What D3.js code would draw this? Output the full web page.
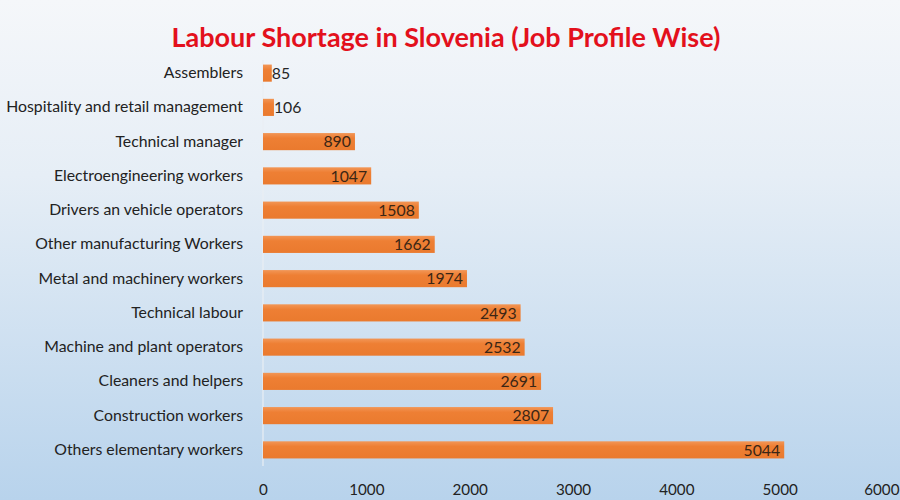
<!DOCTYPE html>
<html>
<head>
<meta charset="utf-8">
<script src="https://cdn.jsdelivr.net/npm/d3@7"></script>
<style>
  html, body { margin: 0; padding: 0; }
  body { width: 900px; height: 500px; overflow: hidden; }
  svg { display: block; font-family: Lato, "Open Sans", sans-serif; }
</style>
</head>
<body>
<svg id="chart" width="900" height="500"></svg>
<script>
const categories = [
  "Assemblers",
  "Hospitality and retail management",
  "Technical manager",
  "Electroengineering workers",
  "Drivers an vehicle operators",
  "Other manufacturing Workers",
  "Metal and machinery workers",
  "Technical labour",
  "Machine and plant operators",
  "Cleaners and helpers",
  "Construction workers",
  "Others elementary workers"
];
const values = [85, 106, 890, 1047, 1508, 1662, 1974, 2493, 2532, 2691, 2807, 5044];
const xTicks = [0, 1000, 2000, 3000, 4000, 5000, 6000];
const title = "Labour Shortage in Slovenia (Job Profile Wise)";

const svg = d3.select("#chart");
const W = 900, H = 500;
const FS = 15.8;

const defs = svg.append("defs");
const bg = defs.append("linearGradient").attr("id", "bg")
  .attr("x1", 0).attr("y1", 0).attr("x2", 0).attr("y2", 1);
bg.append("stop").attr("offset", "0%").attr("stop-color", "#f5f7fa");
bg.append("stop").attr("offset", "35%").attr("stop-color", "#e6eef6");
bg.append("stop").attr("offset", "100%").attr("stop-color", "#b8d3ec");

const barG = defs.append("linearGradient").attr("id", "barG")
  .attr("x1", 0).attr("y1", 0).attr("x2", 0).attr("y2", 1);
barG.append("stop").attr("offset", "0%").attr("stop-color", "#f29656");
barG.append("stop").attr("offset", "30%").attr("stop-color", "#ee7f34");
barG.append("stop").attr("offset", "100%").attr("stop-color", "#ea7a2e");

svg.append("rect").attr("width", W).attr("height", H).attr("fill", "url(#bg)");

const x = d3.scaleLinear().domain([0, 6000]).range([263, 883]);
const y = d3.scaleBand().domain(categories).range([56, 467]).paddingInner(0.5).paddingOuter(0.25);

// vertical axis line
svg.append("line")
  .attr("x1", x(0)).attr("x2", x(0))
  .attr("y1", 60).attr("y2", 466)
  .attr("stroke", "#e9eef4").attr("stroke-width", 1.2);

// bars
svg.append("g").selectAll("rect").data(values).join("rect")
  .attr("x", x(0))
  .attr("y", (d, i) => y(categories[i]))
  .attr("width", d => x(d) - x(0))
  .attr("height", y.bandwidth())
  .attr("fill", "url(#barG)");

// value labels
svg.append("g").selectAll("text").data(values).join("text")
  .attr("x", d => (x(d) - x(0) < 40) ? x(d) : x(d) - 4)
  .attr("y", (d, i) => y(categories[i]) + y.bandwidth() / 2)
  .attr("dy", "0.36em")
  .attr("text-anchor", d => (x(d) - x(0) < 40) ? "start" : "end")
  .attr("font-size", FS)
  .attr("fill", d => (x(d) - x(0) < 40) ? "#262626" : "#3b2615")
  .text(d => d);

// category axis
const yAxis = d3.axisLeft(y).tickSize(0).tickPadding(20);
const gy = svg.append("g").attr("transform", `translate(${x(0)},0)`).call(yAxis);
gy.select(".domain").remove();
gy.selectAll("text").attr("font-size", FS).attr("fill", "#222").attr("font-family", "Lato, 'Open Sans', sans-serif");

// x axis
const xAxis = d3.axisBottom(x).tickValues(xTicks).tickSize(0).tickPadding(0).tickFormat(d3.format("d"));
const gx = svg.append("g").attr("transform", `translate(0,484)`).call(xAxis);
gx.select(".domain").remove();
gx.selectAll("text").attr("font-size", 15.2).attr("fill", "#222").attr("font-family", "Lato, 'Open Sans', sans-serif");
// keep the last tick label inside the picture
gx.selectAll(".tick").filter(d => d === 6000).select("text")
  .attr("text-anchor", "end").attr("x", W - 1 - x(6000));

// title
svg.append("text")
  .attr("x", 446).attr("y", 47)
  .attr("text-anchor", "middle")
  .attr("font-size", 27)
  .attr("font-weight", "bold")
  .attr("fill", "#e3101c")
  .text(title);
</script>
</body>
</html>
